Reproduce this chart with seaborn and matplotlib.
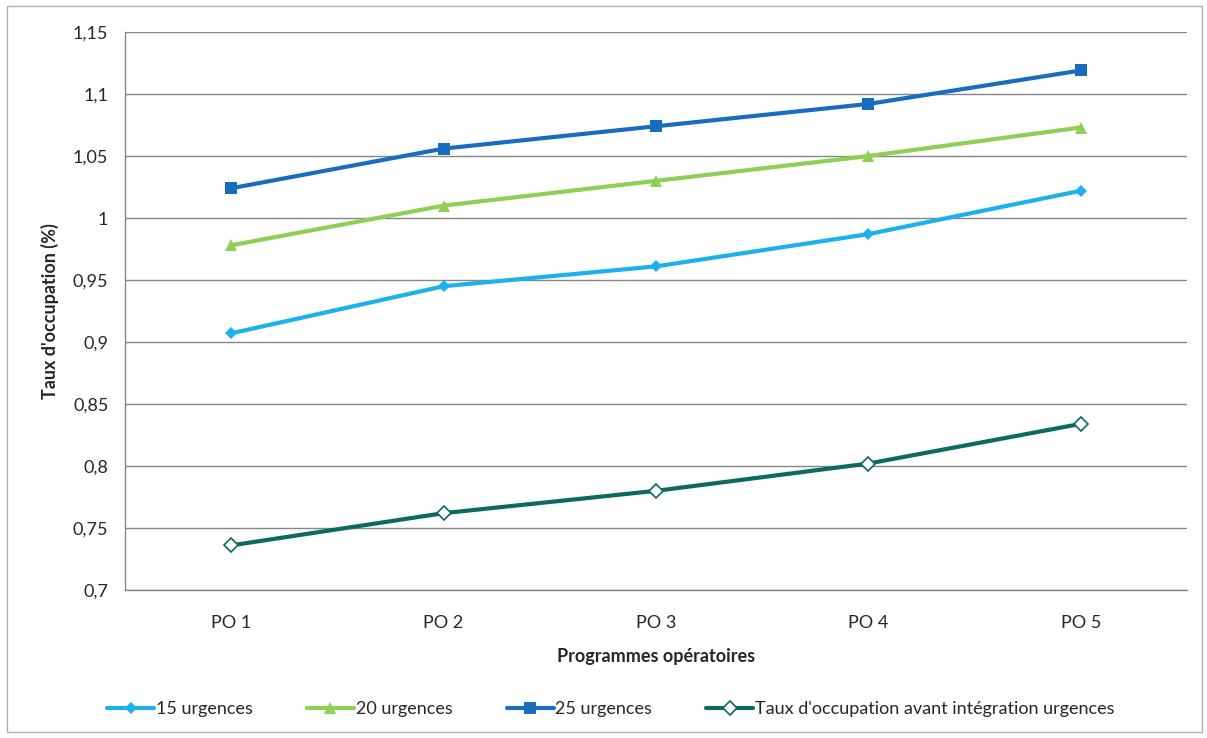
import pandas as pd
import numpy as np
import matplotlib
matplotlib.use("Agg")
import matplotlib.pyplot as plt
import seaborn as sns
from matplotlib.patches import Rectangle
from matplotlib.ticker import FixedLocator, FuncFormatter

categories = ["PO 1", "PO 2", "PO 3", "PO 4", "PO 5"]
urg15 = [0.907, 0.945, 0.961, 0.987, 1.022]
urg20 = [0.978, 1.010, 1.030, 1.050, 1.073]
urg25 = [1.024, 1.056, 1.074, 1.092, 1.119]
avant = [0.736, 0.762, 0.780, 0.802, 0.834]

series_names = ["15 urgences", "20 urgences", "25 urgences",
                "Taux d'occupation avant intégration urgences"]
series_values = [urg15, urg20, urg25, avant]
colors = ["#1CB0EC", "#8ECF55", "#1A6DBE", "#0E6A5E"]
markers = ["D", "^", "s", "D"]
marker_sizes = [6, 8, 8, 7]

rows = []
for name, vals in zip(series_names, series_values):
    for i, v in enumerate(vals):
        rows.append({"serie": name, "pos": i, "valeur": v})
df = pd.DataFrame(rows)

sns.set_style("white")
plt.rcParams["font.family"] = ["Lato", "DejaVu Sans"]
FS = 13

fig = plt.figure(figsize=(12.07, 7.38), dpi=100)
ax = fig.add_axes([0.1036, 0.2005, 0.8798, 0.7561])

for name, col, mk, ms in zip(series_names, colors, markers, marker_sizes):
    sub = df[df["serie"] == name]
    # the "before" series uses hollow diamonds
    face = "white" if name.startswith("Taux") else col
    sns.lineplot(data=sub, x="pos", y="valeur", ax=ax, color=col, linewidth=3,
                 marker=mk, markersize=ms, markerfacecolor=face,
                 markeredgecolor=col, markeredgewidth=1.2 if face == "white" else 0,
                 label=name)

ax.set_xlim(-0.5, 4.5)
ax.set_ylim(0.7, 1.15)
ax.set_yticks(np.arange(0.7, 1.1501, 0.05))
ax.yaxis.set_major_formatter(FuncFormatter(
    lambda v, p: ("%g" % round(v, 2)).replace(".", ",")))
ax.set_xticks(range(len(categories)))
ax.set_xticklabels(categories)
# Excel-style ticks between categories
ax.xaxis.set_minor_locator(FixedLocator(np.arange(-0.5, 4.6, 1)))
ax.tick_params(axis="x", which="major", length=0, pad=18, labelsize=FS)
ax.tick_params(axis="x", which="minor", length=7, color="#868686", width=1)
ax.tick_params(axis="y", length=6, color="#868686", width=1, pad=6, labelsize=FS)
ax.grid(axis="y", color="#868686", linewidth=1)
ax.set_axisbelow(True)

for s in ["top", "right"]:
    ax.spines[s].set_visible(False)
for s in ["left", "bottom"]:
    ax.spines[s].set_color("#868686")
    ax.spines[s].set_linewidth(1)

ax.set_xlabel("Programmes opératoires", fontsize=FS, fontweight="bold", labelpad=12)
ax.set_ylabel("Taux d'occupation (%)", fontsize=FS, fontweight="bold", labelpad=10)

ax.legend(loc="center", bbox_to_anchor=(0.4576, -0.213), ncol=4, frameon=False,
          fontsize=FS, handlelength=2.6, handletextpad=0.1, columnspacing=3.0)

fig.patches.append(Rectangle((0.006, 0.008), 0.99, 0.984, transform=fig.transFigure,
                             fill=False, edgecolor="#B0B0B0", linewidth=1))

fig.savefig("out.png", dpi=100)
